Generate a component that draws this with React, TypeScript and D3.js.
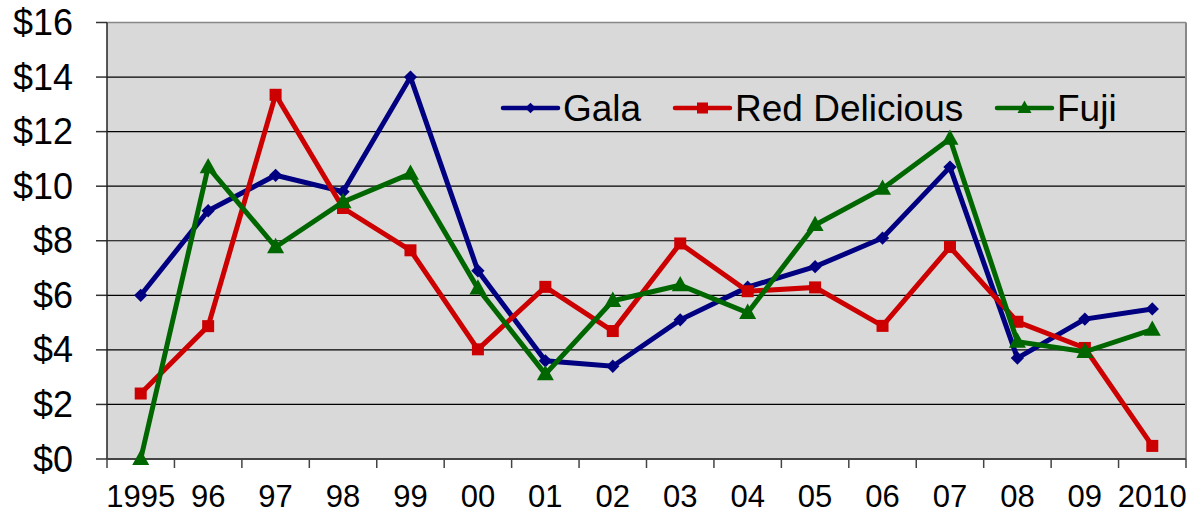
import React from "react";
import * as d3 from "d3";

const categories = ["1995", "96", "97", "98", "99", "00", "01", "02", "03", "04", "05", "06", "07", "08", "09", "2010"];
const gala = [6.0, 9.1, 10.4, 9.8, 14.0, 6.9, 3.6, 3.4, 5.1, 6.3, 7.05, 8.1, 10.7, 3.7, 5.13, 5.5];
const redDelicious = [2.4, 4.87, 13.35, 9.2, 7.65, 4.02, 6.31, 4.69, 7.9, 6.15, 6.29, 4.88, 7.77, 5.03, 4.07, 0.48];
const fuji = [0, 10.7, 7.77, 9.42, 10.46, 6.25, 3.11, 5.8, 6.37, 5.36, 8.58, 9.91, 11.74, 4.3, 3.93, 4.74];
const yTicks = [0, 2, 4, 6, 8, 10, 12, 14, 16];

const W = 1191, H = 513;
const L = 107, R = 1186, T = 22.5, B = 459;

type Series = { name: string; values: number[]; color: string; marker: "diamond" | "square" | "triangle" };
const series: Series[] = [
  { name: "Gala", values: gala, color: "#000080", marker: "diamond" },
  { name: "Red Delicious", values: redDelicious, color: "#CC0000", marker: "square" },
  { name: "Fuji", values: fuji, color: "#006600", marker: "triangle" },
];
const legendX = [503, 675, 997];

function Marker({ type, x, y, color, s }: { type: string; x: number; y: number; color: string; s: number }) {
  if (type === "diamond") {
    const sym = d3.symbol(d3.symbolDiamond2, s * s * 0.5)();
    return <path d={sym || ""} transform={`translate(${x},${y})`} fill={color} />;
  }
  if (type === "square") {
    return <rect x={x - s / 2} y={y - s / 2} width={s} height={s} fill={color} />;
  }
  const h = s * 0.9;
  return <path d={`M${x},${y - h * 0.6}L${x + s / 2},${y + h * 0.4}L${x - s / 2},${y + h * 0.4}Z`} fill={color} />;
}

export default function App() {
  const x = d3.scaleBand<string>().domain(categories).range([L, R]).padding(0);
  const y = d3.scaleLinear().domain([0, 16]).range([B, T]);
  const cx = (c: string) => (x(c) as number) + x.bandwidth() / 2;
  const line = d3.line<number>().x((_, i) => cx(categories[i])).y((v) => y(v));
  const bounds = categories.map((c) => x(c) as number).concat([R]);
  const font = "'Liberation Sans', Arial, sans-serif";

  return (
    <svg width={W} height={H} style={{ position: "absolute", left: 0, top: 0 }} fontFamily={font}>
      <rect x={0} y={0} width={W} height={H} fill="#fff" />
      <rect x={L} y={T} width={R - L} height={B - T} fill="#D9D9D9" />
      {yTicks.map((t) => (
        <g key={t}>
          {t > 0 && t < 16 && <line x1={L} x2={R} y1={y(t)} y2={y(t)} stroke="#000" strokeWidth={1.2} />}
          <line x1={96} x2={L} y1={y(t)} y2={y(t)} stroke="#333" strokeWidth={1.5} />
          <text x={73} y={y(t) + 12.5} textAnchor="end" fontSize={36} fill="#000">{`$${t}`}</text>
        </g>
      ))}
      <line x1={L} x2={R} y1={T} y2={T} stroke="#888" strokeWidth={1.5} />
      <line x1={R} x2={R} y1={T} y2={B} stroke="#888" strokeWidth={2} />
      <line x1={L} x2={L} y1={T} y2={B} stroke="#222" strokeWidth={1.5} />
      <line x1={L} x2={R} y1={B} y2={B} stroke="#444" strokeWidth={2} />
      {bounds.map((b, i) => (
        <line key={i} x1={b} x2={b} y1={B} y2={468} stroke="#444" strokeWidth={1.5} />
      ))}
      {categories.map((c) => (
        <text key={c} x={cx(c)} y={507} textAnchor="middle" fontSize={31} fill="#000">{c}</text>
      ))}
      {series.map((s) => (
        <g key={s.name}>
          <path d={line(s.values) || ""} fill="none" stroke={s.color} strokeWidth={5} strokeLinejoin="miter" />
          {s.values.map((v, i) => (
            <Marker key={i} type={s.marker} x={cx(categories[i])} y={y(v)} color={s.color}
              s={s.marker === "diamond" ? 15 : s.marker === "square" ? 12 : 17} />
          ))}
        </g>
      ))}
      {series.map((s, i) => (
        <g key={"lg" + s.name}>
          <line x1={legendX[i]} x2={legendX[i] + 55} y1={108} y2={108} stroke={s.color} strokeWidth={4.5} strokeLinecap="round" />
          <Marker type={s.marker} x={legendX[i] + 27.5} y={108} color={s.color}
            s={s.marker === "diamond" ? 12 : s.marker === "square" ? 11 : 14} />
          <text x={legendX[i] + 60} y={121} fontSize={37} fill="#000">{s.name}</text>
        </g>
      ))}
    </svg>
  );
}
